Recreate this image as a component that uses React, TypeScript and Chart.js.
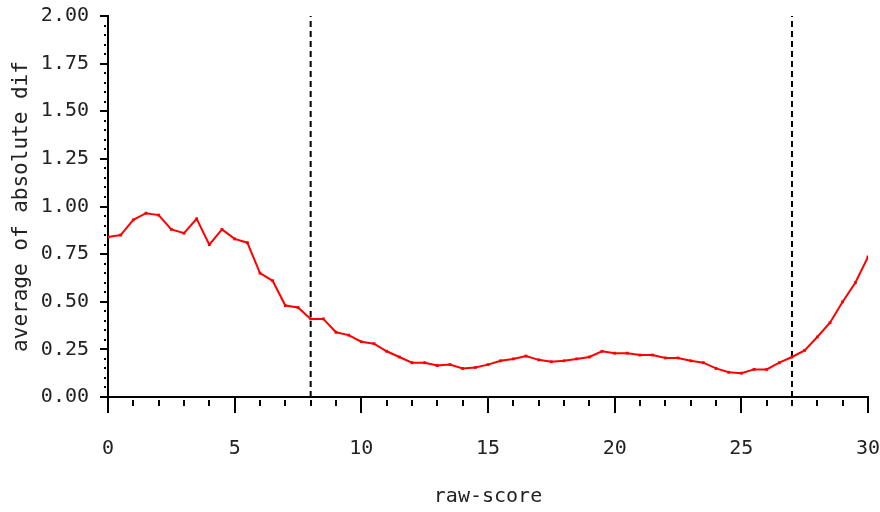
import { useEffect, useRef } from "react";
import { Chart, registerables } from "chart.js";

Chart.register(...registerables);

const rawScore = [
  0, 0.5, 1, 1.5, 2, 2.5, 3, 3.5, 4, 4.5, 5, 5.5, 6, 6.5, 7, 7.5, 8, 8.5, 9, 9.5,
  10, 10.5, 11, 11.5, 12, 12.5, 13, 13.5, 14, 14.5, 15, 15.5, 16, 16.5, 17, 17.5,
  18, 18.5, 19, 19.5, 20, 20.5, 21, 21.5, 22, 22.5, 23, 23.5, 24, 24.5, 25, 25.5,
  26, 26.5, 27, 27.5, 28, 28.5, 29, 29.5, 30,
];
const avgAbsDif = [
  0.84, 0.85, 0.93, 0.965, 0.955, 0.88, 0.86, 0.935, 0.8, 0.88, 0.83, 0.81, 0.65,
  0.61, 0.48, 0.47, 0.41, 0.41, 0.34, 0.325, 0.29, 0.28, 0.24, 0.21, 0.18, 0.18,
  0.165, 0.17, 0.15, 0.155, 0.17, 0.19, 0.2, 0.215, 0.195, 0.185, 0.19, 0.2, 0.21,
  0.24, 0.23, 0.23, 0.22, 0.22, 0.205, 0.205, 0.19, 0.18, 0.15, 0.13, 0.125, 0.145,
  0.145, 0.18, 0.21, 0.245, 0.315, 0.39, 0.5, 0.6, 0.735,
];
const cutoffs = [8, 27];
const xTicks = [0, 5, 10, 15, 20, 25, 30];
const yTicks = [0, 0.25, 0.5, 0.75, 1, 1.25, 1.5, 1.75, 2];
const xMinorStep = 1;
const yMinorStep = 0.05;

const FONT = "'DejaVu Sans Mono', 'Liberation Mono', monospace";

const minorTicks = {
  id: "minorTicks",
  afterDraw(chart: any) {
    const { ctx, chartArea, scales } = chart;
    const xs = scales.x;
    const ys = scales.y;
    ctx.save();
    ctx.fillStyle = "#000";
    const xMin = xTicks[0];
    const xMax = xTicks[xTicks.length - 1];
    for (let v = xMin; v <= xMax + 1e-9; v += xMinorStep) {
      if (xTicks.some((t) => Math.abs(t - v) < 1e-9)) continue;
      const px = Math.round(xs.getPixelForValue(v));
      ctx.fillRect(px - 1, chartArea.bottom + 3, 2, 6);
    }
    const yMin = yTicks[0];
    const yMax = yTicks[yTicks.length - 1];
    const n = Math.round((yMax - yMin) / yMinorStep);
    for (let i = 0; i <= n; i++) {
      const v = yMin + i * yMinorStep;
      if (yTicks.some((t) => Math.abs(t - v) < 1e-9)) continue;
      const py = Math.round(ys.getPixelForValue(v));
      ctx.fillRect(chartArea.left - 4, py - 1, 2, 2);
    }
    ctx.restore();
  },
};

export default function App() {
  const ref = useRef<HTMLCanvasElement>(null);

  useEffect(() => {
    if (!ref.current) return;
    const lineData = rawScore.map((x, i) => ({ x, y: avgAbsDif[i] }));
    const cutoffSets = cutoffs.map((c) => ({
      data: [
        { x: c, y: yTicks[0] },
        { x: c, y: yTicks[yTicks.length - 1] },
      ],
      borderColor: "#000",
      borderWidth: 2,
      borderDash: [6, 4],
      pointRadius: 0,
      tension: 0,
    }));
    const chart = new Chart(ref.current, {
      type: "line",
      data: {
        datasets: [
          {
            data: lineData,
            borderColor: "#ff0000",
            backgroundColor: "#ff0000",
            borderWidth: 2,
            pointStyle: "rect",
            pointRadius: 2,
            pointBorderWidth: 0,
            tension: 0,
          },
          ...cutoffSets,
        ] as any,
      },
      options: {
        responsive: false,
        animation: false,
        layout: { padding: { top: 16, right: 12, left: 0, bottom: 0 } },
        plugins: { legend: { display: false }, tooltip: { enabled: false } },
        scales: {
          x: {
            type: "linear",
            min: xTicks[0],
            max: xTicks[xTicks.length - 1],
            afterFit: (s: any) => {
              s.height = 115;
              s.paddingLeft = 0;
              s.paddingRight = 0;
            },
            afterBuildTicks: (s: any) => {
              s.ticks = xTicks.map((v) => ({ value: v }));
            },
            ticks: {
              color: "#222",
              font: { family: FONT, size: 20 },
              padding: 24,
              maxRotation: 0,
              callback: (v: any) => String(v),
            },
            grid: {
              display: true,
              drawOnChartArea: false,
              drawTicks: true,
              tickLength: 16,
              color: "#000",
              lineWidth: 2,
            },
            border: { display: true, color: "#000", width: 2 },
            title: {
              display: true,
              text: "raw-score",
              color: "#222",
              font: { family: FONT, size: 20 },
              padding: { top: 3, bottom: 3 },
            },
          },
          y: {
            type: "linear",
            min: yTicks[0],
            max: yTicks[yTicks.length - 1],
            afterFit: (s: any) => {
              s.width = 108;
              s.paddingTop = 0;
              s.paddingBottom = 0;
            },
            afterBuildTicks: (s: any) => {
              s.ticks = yTicks.map((v) => ({ value: v }));
            },
            ticks: {
              color: "#222",
              font: { family: FONT, size: 20 },
              padding: 11,
              callback: (v: any) => Number(v).toFixed(2),
            },
            grid: {
              display: true,
              drawOnChartArea: false,
              drawTicks: true,
              tickLength: 8,
              color: "#000",
              lineWidth: 2,
            },
            border: { display: true, color: "#000", width: 2 },
            title: {
              display: true,
              text: "average of absolute dif",
              color: "#222",
              font: { family: FONT, size: 21 },
              padding: { top: 9, bottom: 0 },
            },
          },
        },
      },
      plugins: [minorTicks],
    });
    return () => chart.destroy();
  }, []);

  return (
    <div style={{ position: "fixed", left: 0, top: 0, width: 880, height: 512, background: "#fff" }}>
      <canvas ref={ref} width={880} height={512} />
    </div>
  );
}
